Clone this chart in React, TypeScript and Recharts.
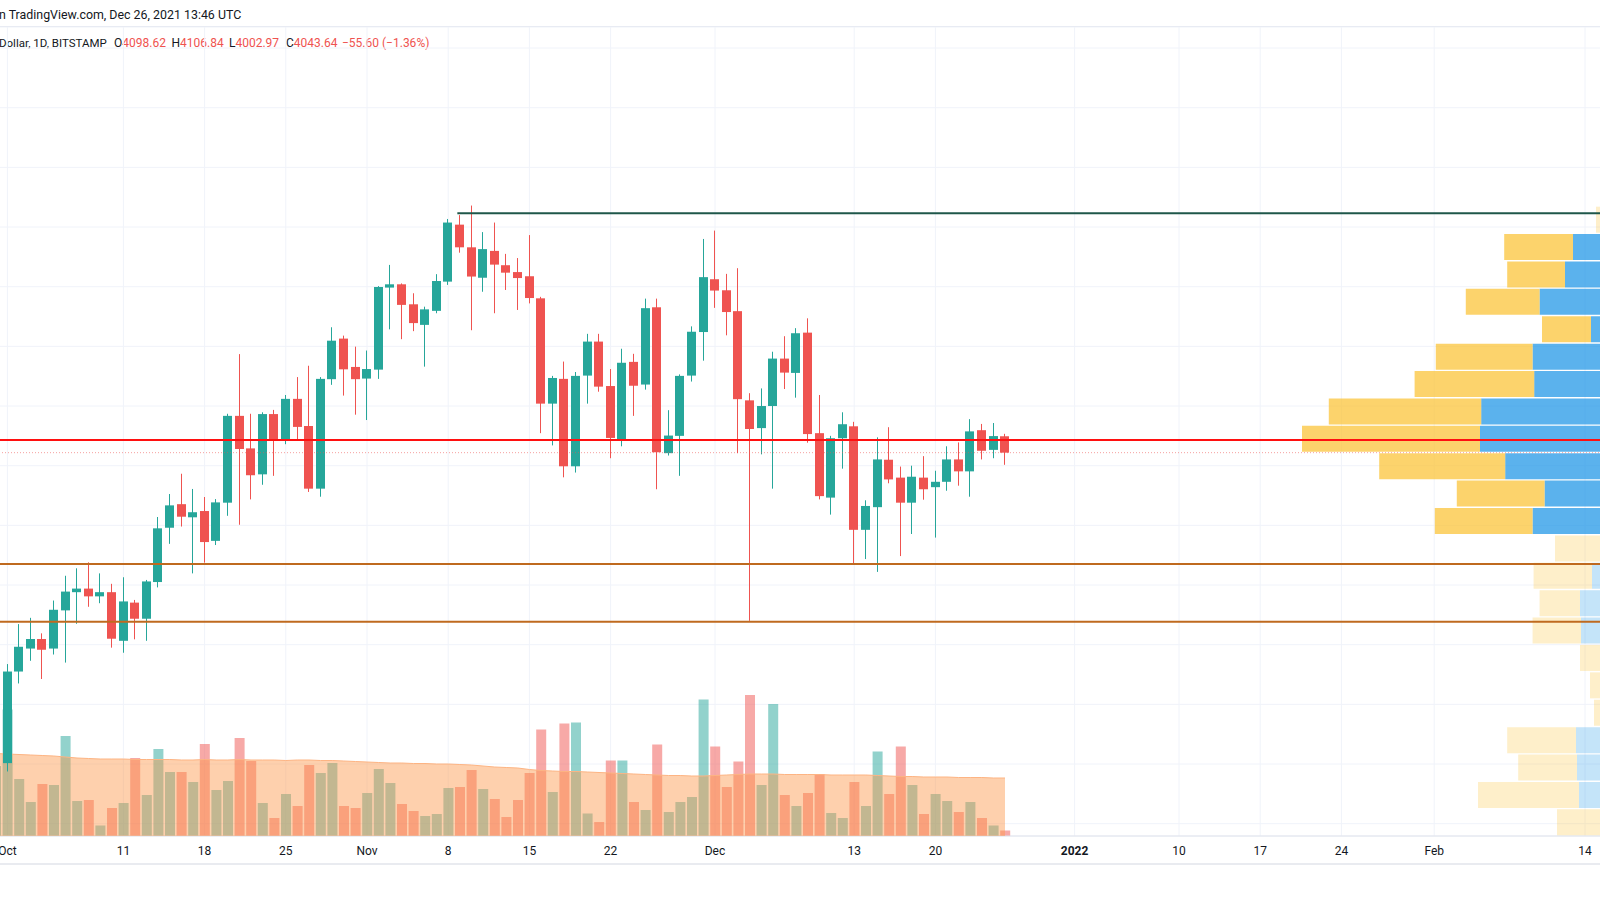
import { ComposedChart, BarChart, Bar, Area, XAxis, YAxis, CartesianGrid, ReferenceLine, Cell } from "recharts";

// ETH/USD 1D (Bitstamp), Sep 30 - Dec 26 2021
const firstDay = Date.UTC(2021, 8, 30);
const totalDays = 140; // time axis continues into February

const opens = [2846, 3003, 3310, 3387, 3419, 3387, 3515, 3576, 3588, 3562, 3576, 3413, 3541, 3487, 3610, 3792, 3871, 3827, 3848, 3748, 3876, 4167, 4058, 3971, 4173, 4086, 4224, 4133, 3923, 4290, 4426, 4331, 4292, 4322, 4597, 4608, 4541, 4472, 4519, 4617, 4808, 4732, 4630, 4720, 4672, 4649, 4635, 4561, 4208, 4291, 3998, 4302, 4416, 4267, 4089, 4348, 4272, 4531, 4042, 4100, 4302, 4448, 4625, 4588, 4518, 4219, 4126, 4200, 4359, 4311, 4446, 4109, 3893, 4092, 4132, 3785, 3861, 4020, 3960, 3876, 3960, 3928, 3946, 4021, 3981, 4119, 4053, 4098.62];
const highs = [3030, 3335, 3469, 3490, 3438, 3548, 3631, 3656, 3676, 3639, 3604, 3626, 3550, 3617, 3828, 3905, 3973, 3922, 3895, 3888, 4174, 4374, 4174, 4179, 4187, 4237, 4297, 4335, 4297, 4464, 4436, 4399, 4386, 4602, 4673, 4611, 4578, 4533, 4642, 4827, 4840, 4872, 4783, 4815, 4710, 4696, 4773, 4566, 4301, 4349, 4314, 4442, 4442, 4324, 4392, 4375, 4560, 4560, 4186, 4306, 4467, 4760, 4788, 4643, 4662, 4243, 4259, 4382, 4434, 4461, 4494, 4237, 4100, 4179, 4147, 3884, 4095, 4129, 3997, 4000, 4032, 3983, 4065, 4078, 4156, 4140, 4143, 4106.84];
const lows = [2820, 2975, 3270, 3346, 3285, 3367, 3340, 3470, 3527, 3539, 3390, 3373, 3418, 3413, 3592, 3738, 3796, 3639, 3675, 3734, 3832, 3802, 3887, 3936, 3966, 4072, 4086, 3912, 3896, 4271, 4235, 4171, 4153, 4291, 4457, 4424, 4451, 4332, 4511, 4606, 4714, 4454, 4583, 4511, 4589, 4522, 4544, 4109, 4068, 3961, 3977, 4208, 4248, 4025, 4065, 4167, 4255, 3921, 4034, 3966, 4282, 4352, 4529, 4437, 4042, 3480, 4038, 3923, 4257, 4228, 4077, 3887, 3836, 3990, 3673, 3687, 3644, 3941, 3697, 3771, 3886, 3759, 3916, 3933, 3896, 4021, 4025, 4002.97];
const closes = [3003, 3310, 3393, 3419, 3383, 3517, 3578, 3588, 3562, 3576, 3420, 3545, 3487, 3612, 3790, 3867, 3829, 3844, 3744, 3877, 4167, 4056, 3968, 4173, 4084, 4224, 4130, 3923, 4291, 4419, 4323, 4290, 4324, 4599, 4608, 4539, 4478, 4524, 4619, 4815, 4732, 4634, 4726, 4674, 4647, 4629, 4562, 4208, 4294, 3998, 4301, 4416, 4265, 4093, 4345, 4268, 4528, 4045, 4101, 4301, 4449, 4632, 4587, 4515, 4223, 4123, 4200, 4359, 4312, 4444, 4106, 3898, 4092, 4139, 3785, 3865, 4021, 3954, 3876, 3963, 3921, 3946, 4021, 3981, 4115, 4050, 4099.24, 4043.64];

// volume in thousand ETH, and its moving average
const volumes = [14.0, 25.3, 11.4, 6.8, 10.4, 10.2, 20.0, 7.0, 7.2, 2.1, 5.6, 6.6, 15.6, 8.2, 17.4, 12.8, 12.8, 10.8, 18.4, 9.2, 11.0, 19.6, 15.0, 6.6, 3.6, 8.4, 6.0, 14.2, 12.6, 14.6, 6.0, 5.6, 8.6, 13.4, 10.6, 6.4, 5.0, 4.0, 4.4, 9.6, 9.8, 13.2, 9.4, 7.4, 3.8, 7.2, 12.6, 21.3, 8.8, 22.5, 22.7, 4.5, 2.8, 15.1, 15.1, 6.8, 5.2, 18.3, 4.8, 6.8, 7.8, 27.3, 17.9, 9.8, 14.9, 28.2, 10.2, 26.4, 8.2, 6.0, 8.6, 12.4, 4.6, 3.6, 10.8, 6.0, 16.9, 8.4, 17.9, 10.2, 4.4, 8.4, 7.0, 4.8, 6.8, 3.6, 2.1, 1.1];
const volumeAvg = [16.5, 16.4, 16.3, 16.2, 16.1, 16.0, 15.8, 15.6, 15.5, 15.4, 15.4, 15.4, 15.3, 15.3, 15.3, 15.3, 15.2, 15.2, 15.3, 15.2, 15.2, 15.3, 15.2, 15.2, 15.2, 15.1, 15.2, 15.2, 15.1, 15.1, 15.0, 14.9, 14.8, 14.7, 14.6, 14.6, 14.5, 14.5, 14.4, 14.4, 14.3, 14.2, 14.0, 13.8, 13.7, 13.6, 13.3, 13.1, 13.0, 12.9, 12.9, 12.8, 12.7, 12.6, 12.5, 12.4, 12.3, 12.2, 12.1, 12.1, 12.0, 12.0, 12.1, 12.2, 12.3, 12.4, 12.4, 12.4, 12.3, 12.3, 12.3, 12.3, 12.2, 12.2, 12.2, 12.2, 12.1, 12.0, 11.9, 11.9, 11.8, 11.8, 11.8, 11.7, 11.7, 11.7, 11.6, 11.6];

const tickDates = ["2021-10-01", "2021-10-11", "2021-10-18", "2021-10-25", "2021-11-01", "2021-11-08", "2021-11-15", "2021-11-22", "2021-12-01", "2021-12-13", "2021-12-20", "2022-01-01", "2022-01-10", "2022-01-17", "2022-01-24", "2022-02-01", "2022-02-14"];
const tickTexts = ["Oct", "11", "18", "25", "Nov", "8", "15", "22", "Dec", "13", "20", "2022", "10", "17", "24", "Feb", "14"];
const priceGrid = [2800, 3000, 3200, 3400, 3600, 3800, 4000, 4200, 4400, 4600, 4800, 5000, 5200, 5400];

// drawn levels
const resistance = 4846;
const resistanceFrom = "2021-11-09";
const redLevel = 4086;
const supportLevels = [3670.5, 3477];

// visible range volume profile (rows top -> bottom)
const profileLevels = [4825, 4733, 4641, 4549, 4457, 4366, 4274, 4182, 4090, 3999, 3907, 3815, 3723, 3631, 3540, 3448, 3356, 3264, 3172, 3081, 2989, 2897, 2805];
const profileUp = [17.5, 33.5, 37.5, 50.2, 24.5, 53.7, 52.9, 79.4, 80, 67.4, 47.7, 53.7, 18, 24, 30, 29.5, 18, 18, 18, 32, 31.5, 30.5, 18.5];
const profileDown = [4.5, 34.4, 28.9, 36.9, 24.5, 48.4, 59.8, 76.2, 89, 63, 43.9, 48.9, 24.5, 29.2, 20.2, 24.2, 12, 7, 5, 34.4, 29.4, 50.5, 23];
const profileValueArea = [false, true, true, true, true, true, true, true, true, true, true, true, false, false, false, false, false, false, false, false, false, false, false];

const UP = "#26a69a";
const DOWN = "#ef5350";
const FONT = "'Trebuchet MS', Roboto, sans-serif";

const rows = Array.from({ length: totalDays }, (_, i) => {
  const date = new Date(firstDay + i * 86400000).toISOString().slice(0, 10);
  if (i >= opens.length) return { date } as any;
  return { date, o: opens[i], h: highs[i], l: lows[i], c: closes[i], vol: volumes[i], volAvg: volumeAvg[i] };
});
const lastDate = rows[rows.length - 1].date;

const profileRows = profileLevels.map((level, i) => ({ level, up: profileUp[i], down: profileDown[i] }));

const PRICE_DOMAIN: [number, number] = [2758.7, 5470.5];
const VOL_DOMAIN: [number, number] = [0, 161.8];
const CHART_W = 1624;
const CHART_LEFT = -10.1;

function Candle(props: any) {
  const { x, y, width, height, payload } = props;
  if (!payload || payload.o == null) return null;
  const { o, h, l, c } = payload;
  const color = c >= o ? UP : DOWN;
  const top0 = Math.min(y, y + height);
  const k = Math.abs(height) / (h - l || 1);
  const bodyTop = top0 + (h - Math.max(o, c)) * k;
  const bodyBot = top0 + (h - Math.min(o, c)) * k;
  const bx = Math.round(x + width / 2 - 4.5);
  return (
    <g>
      <line x1={bx + 4.5} x2={bx + 4.5} y1={top0} y2={top0 + Math.abs(height)} stroke={color} strokeWidth={1} />
      <rect x={bx} y={bodyTop} width={9} height={Math.max(bodyBot - bodyTop, 1)} fill={color} />
    </g>
  );
}

function DateTick({ x, y, payload }: any) {
  const label = tickTexts[tickDates.indexOf(payload.value)];
  return (
    <text x={x} y={y} dy={19} textAnchor="middle" fontSize={12} fontFamily={FONT} fill="#131722" fontWeight={label === "2022" ? 700 : 400}>
      {label}
    </text>
  );
}

const layer = { position: "absolute" as const, left: CHART_LEFT, top: 0 };
// plot area spans y 27..836 in every price layer (hidden axes take no room)
const hiddenMargin = { top: 27, right: 0, bottom: 64, left: 0 };

export default function App() {
  const last = rows[opens.length - 1];
  const prevClose = closes[closes.length - 2];
  const change = last.c - prevClose;
  const pct = (change / prevClose) * 100;
  const signed = (v: number) => (v < 0 ? "\u2212" : "+") + Math.abs(v).toFixed(2);
  const legend = [
    { key: "O", val: last.o, x: 114 },
    { key: "H", val: last.h, x: 171.5 },
    { key: "L", val: last.l, x: 229 },
    { key: "C", val: last.c, x: 286 },
  ];

  return (
    <div style={{ position: "fixed", left: 0, top: 0, width: 1600, height: 900, overflow: "hidden", background: "#fff", fontFamily: FONT, color: "#131722" }}>
      {/* header */}
      <div style={{ position: "absolute", left: -1, top: 7, fontSize: 12.4, lineHeight: "16px", whiteSpace: "nowrap" }}>
        n TradingView.com, Dec 26, 2021 13:46 UTC
      </div>
      <div style={{ position: "absolute", left: 0, right: 0, top: 26, height: 1, background: "#e0e3eb" }} />
      <div style={{ position: "absolute", left: -1, top: 34.5, fontSize: 11.5, lineHeight: "16px", whiteSpace: "nowrap" }}>
        Dollar, 1D, BITSTAMP
      </div>
      {legend.map((g) => (
        <div key={g.key} style={{ position: "absolute", left: g.x, top: 34.5, fontSize: 12, lineHeight: "16px", whiteSpace: "nowrap" }}>
          {g.key}
          <span style={{ color: DOWN }}>{g.val.toFixed(2)}</span>
        </div>
      ))}
      <div style={{ position: "absolute", left: 342, top: 34.5, fontSize: 12, lineHeight: "16px", whiteSpace: "nowrap", color: DOWN }}>
        {signed(change)} ({signed(pct)}%)
      </div>

      {/* grid, time axis, volume bars */}
      <div style={layer}>
        <ComposedChart width={CHART_W} height={900} data={rows} margin={{ top: 27, right: 0, bottom: 36, left: 0 }}>
          <CartesianGrid stroke="#f0f3fa" xAxisId="p" yAxisId="p" />
          <XAxis
            xAxisId="p"
            dataKey="date"
            ticks={tickDates}
            interval={0}
            height={28}
            tickLine={false}
            tickSize={0}
            tickMargin={0}
            axisLine={{ stroke: "#e0e3eb", strokeWidth: 1 }}
            tick={<DateTick />}
          />
          <YAxis yAxisId="p" type="number" hide domain={PRICE_DOMAIN} ticks={priceGrid} allowDataOverflow />
          <YAxis yAxisId="v" type="number" hide domain={VOL_DOMAIN} allowDataOverflow />
          <Bar xAxisId="p" yAxisId="v" dataKey="vol" barSize={10} isAnimationActive={false}>
            {rows.map((r, i) => (
              <Cell key={i} fill={r.c >= r.o ? "rgba(38,166,154,0.5)" : "rgba(239,83,80,0.5)"} />
            ))}
          </Bar>
        </ComposedChart>
      </div>

      {/* volume moving average over the bars, then candles */}
      <div style={layer}>
        <ComposedChart width={CHART_W} height={900} data={rows} margin={hiddenMargin}>
          <XAxis dataKey="date" hide />
          <YAxis yAxisId="p" type="number" hide domain={PRICE_DOMAIN} allowDataOverflow />
          <YAxis yAxisId="v" type="number" hide domain={VOL_DOMAIN} allowDataOverflow />
          <Area
            yAxisId="v"
            dataKey="volAvg"
            type="linear"
            stroke="#fdb483"
            strokeWidth={1}
            fill="#fd974a"
            fillOpacity={0.45}
            dot={false}
            activeDot={false}
            isAnimationActive={false}
          />
          <Bar
            yAxisId="p"
            dataKey={(d: any) => (d.o == null ? null : [d.l, d.h])}
            barSize={9}
            shape={(p: any) => <Candle {...p} />}
            isAnimationActive={false}
          />
        </ComposedChart>
      </div>

      {/* volume profile, anchored beyond the right edge */}
      <div style={{ position: "absolute", left: 1240, top: 0 }}>
        <BarChart layout="vertical" width={400} height={900} data={profileRows} margin={{ top: 206, right: 0, bottom: 64, left: 0 }} barCategoryGap={0.7}>
          <XAxis type="number" domain={[0, 200]} reversed hide allowDataOverflow />
          <YAxis type="category" dataKey="level" hide />
          <Bar dataKey="up" stackId="vp" isAnimationActive={false}>
            {profileRows.map((_, i) => (
              <Cell key={i} fill={profileValueArea[i] ? "rgba(21,146,230,0.7)" : "rgba(21,146,230,0.25)"} />
            ))}
          </Bar>
          <Bar dataKey="down" stackId="vp" isAnimationActive={false}>
            {profileRows.map((_, i) => (
              <Cell key={i} fill={profileValueArea[i] ? "rgba(251,192,45,0.7)" : "rgba(251,192,45,0.25)"} />
            ))}
          </Bar>
        </BarChart>
      </div>

      {/* drawn lines on top */}
      <div style={layer}>
        <ComposedChart width={CHART_W} height={900} data={rows} margin={hiddenMargin}>
          <XAxis dataKey="date" hide />
          <YAxis type="number" hide domain={PRICE_DOMAIN} allowDataOverflow />
          <ReferenceLine y={last.c} stroke="rgba(239,83,80,0.55)" strokeDasharray="1 2" strokeWidth={1} />
          <ReferenceLine y={redLevel} stroke="#ff1010" strokeWidth={2} />
          {supportLevels.map((v) => (
            <ReferenceLine key={v} y={v} stroke="#bf6a1f" strokeWidth={2} />
          ))}
          <ReferenceLine
            segment={[
              { x: resistanceFrom, y: resistance },
              { x: lastDate, y: resistance },
            ]}
            stroke="#1f574a"
            strokeWidth={2}
          />
        </ComposedChart>
      </div>

      <div style={{ position: "absolute", left: 0, right: 0, top: 863, height: 2, background: "#e9ebf0" }} />
    </div>
  );
}
